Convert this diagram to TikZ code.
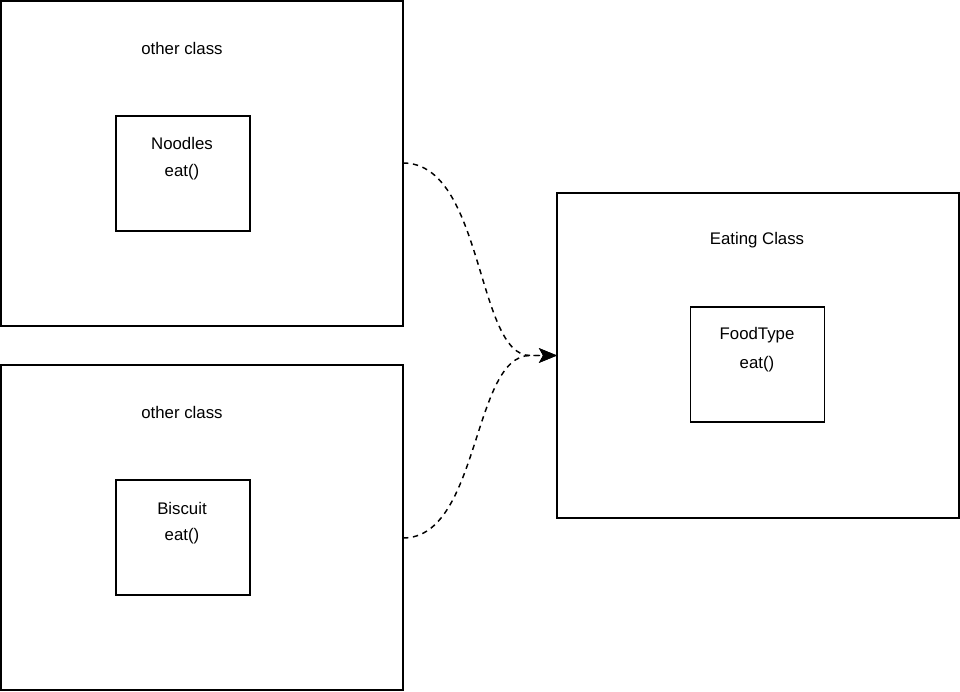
\documentclass[tikz,border=0pt]{standalone}
\usepackage{fontspec}
\setmainfont{Liberation Sans}
\usetikzlibrary{arrows.meta}
\begin{document}
\begin{tikzpicture}[x=0.75pt,y=-0.75pt,
  box/.style={draw=black,line width=1.1pt,fill=white,outer sep=0pt,inner sep=0pt},
  bigbox/.style={box,minimum width=301.5pt,minimum height=243.75pt},
  smallbox/.style={box,minimum width=100.5pt,minimum height=86.25pt},
  lbl/.style={font=\fontsize{12.6pt}{15pt}\selectfont,inner sep=0pt,anchor=center},
  link/.style={draw=black,line width=1.1pt,dash pattern=on 4pt off 3.5pt,-{Stealth[length=13.5pt,width=11pt,inset=3pt]}}]
\useasboundingbox (0,0) rectangle (960,692);
\node[bigbox] (tl) at (202,163.5) {};
\node[bigbox] (bl) at (202,527.5) {};
\node[bigbox] (rt) at (758,355.5) {};
\node[smallbox] (noodles) at (183,173.5) {};
\node[smallbox] (biscuit) at (183,537.5) {};
\node[smallbox] (food) at (757.5,364.5) {};
\node[lbl] (t1) at (182,48) {other class};
\node[lbl] (t2) at (182,412) {other class};
\node[lbl] (t3) at (757,240) {Eating Class};
\node[lbl] (n1) at (182,143.5) {Noodles};
\node[lbl] (n2) at (182,172) {eat()};
\node[lbl] (b1) at (182,508.5) {Biscuit};
\node[lbl] (b2) at (182,536) {eat()};
\node[lbl] (f1) at (757,335.5) {FoodType};
\node[lbl] (f2) at (757,364) {eat()};
\coordinate (s1) at (tl.east |- 0,163);
\coordinate (s2) at (bl.east |- 0,538);
\coordinate (m) at (530,355.5);
\draw[link] (s1) .. controls (484,163) and (476,355.5) .. (m) -- (rt.west);
\draw[link] (s2) .. controls (480,538) and (472,355.5) .. (m) -- (rt.west);
\end{tikzpicture}
\end{document}
